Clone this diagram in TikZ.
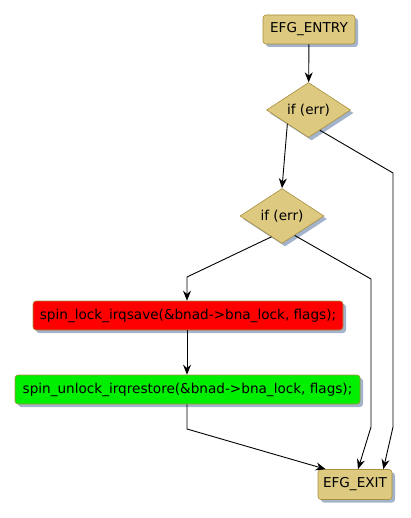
\documentclass[tikz,border=0pt]{standalone}
\usepackage{fontspec}
\setmainfont{DejaVu Sans}
\usetikzlibrary{arrows.meta, shapes.geometric, shadows, calc}
\definecolor{boxtan}{HTML}{DDC97F}
\definecolor{boxedge}{HTML}{A8903E}
\definecolor{shadowblue}{HTML}{A3B3CB}
\definecolor{lockred}{HTML}{FF0000}
\definecolor{unlockgreen}{HTML}{00EE00}

\begin{document}
\begin{tikzpicture}[x=1pt, y=-1pt,
      >={Stealth[length=10pt, width=8pt]},
      every node/.style={font=\fontsize{13.6}{16}\selectfont},
      block/.style={rectangle, rounded corners=3pt, draw=boxedge,
                    fill=boxtan, line width=0.6pt, inner sep=0pt,
                    minimum height=29pt,
                    drop shadow={shadow xshift=3pt, shadow yshift=-3pt,
                                 fill=shadowblue, opacity=1}},
      test/.style={diamond, draw=boxedge, fill=boxtan, line width=0.6pt,
                   inner sep=0pt, minimum width=84pt, minimum height=42pt,
                   drop shadow={shadow xshift=3pt, shadow yshift=-3pt,
                                fill=shadowblue, opacity=1}},
      flow/.style={->, line width=0.9pt}]
    \useasboundingbox (0,0) rectangle (411,518);
    \node[block, minimum width=92pt] (entry) at (309,29.5) {EFG\_ENTRY};
    \node[test] (d1) at (308.5,110) {if (err)};
    \node[test] (d2) at (282,216) {if (err)};
    \node[block, fill=lockred, minimum width=310pt] (lock) at (188,315.5)
      {spin\_lock\_irqsave(\&bnad->bna\_lock, flags);};
    \node[block, fill=unlockgreen, minimum width=345pt] (unlock) at (187.5,389.5)
      {spin\_unlock\_irqrestore(\&bnad->bna\_lock, flags);};
    \node[block, minimum width=74pt, minimum height=30pt] (exit) at (355,484.5)
      {EFG\_EXIT};
    % bend points
    \coordinate (k1) at (393,173);
    \coordinate (k2) at (393,427);
    \coordinate (k3) at (371,279);
    \coordinate (k4) at (371,427);
    \coordinate (k5) at (187,277);
    \coordinate (k6) at (187,429);
    \draw[flow] (entry) -- (d1);
    \draw[flow] ($(d1.south)!0.5!(d1.west)$) -- (d2.north);
    \draw[flow] ($(d1.south)!0.27!(d1.east)$) -- (k1) -- (k2)
      -- ([xshift=-9pt]exit.north east);
    \draw[flow] ($(d2.south)!0.25!(d2.west)$) -- (k5) -- (lock.north -| k5);
    \draw[flow] ($(d2.south)!0.3!(d2.east)$) -- (k3) -- (k4)
      -- ([xshift=3pt]exit.north);
    \draw[flow] (lock.south -| k5) -- (unlock.north -| k5);
    \draw[flow] (unlock.south -| k6) -- (k6)
      -- ([xshift=8pt]exit.north west);
  \end{tikzpicture}
\end{document}
